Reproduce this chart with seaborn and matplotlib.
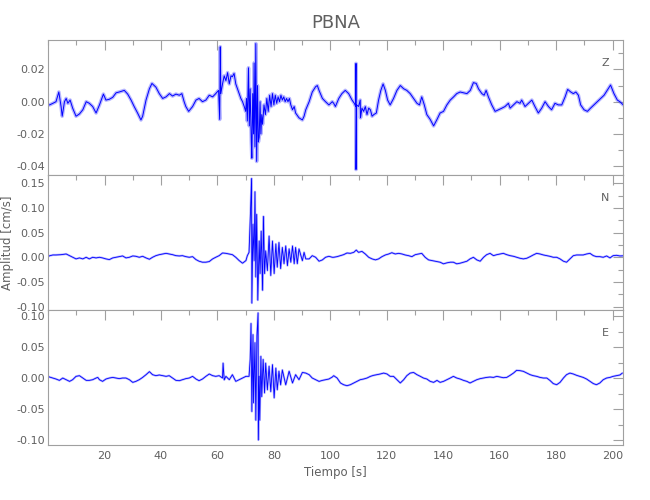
import numpy as np
import pandas as pd
import matplotlib
matplotlib.use('Agg')
import matplotlib.pyplot as plt
import seaborn as sns
from matplotlib.ticker import MultipleLocator, FixedLocator, FormatStrFormatter

# values, amplitudes in 1e-3 cm/s
z_t = [0.0, 0.5, 1.7, 2.8, 3.8, 4.6, 5.0, 5.8, 6.4, 7.0, 7.8, 8.7, 9.9, 11.1, 12.3, 13.5, 14.6, 15.8, 17.0, 18.2,
       19.6, 20.5, 21.7, 22.9, 24.1, 25.2, 27.0, 28.2, 29.4, 30.5, 31.7, 32.9, 33.5, 34.7, 35.9, 36.8, 38.2, 39.4,
       40.6, 41.8, 43.0, 44.1, 45.3, 46.5, 47.4, 48.2, 48.8, 49.8, 51.2, 52.4, 53.5, 54.7, 55.9, 57.1, 58.3, 59.4,
       60.4, 60.8, 61.0, 61.2, 61.8, 62.4, 63.0, 63.6, 64.2, 64.8, 65.3, 65.9, 66.5, 67.1, 67.7, 68.3, 68.9, 69.5,
       70.0, 70.3, 70.6, 71.0, 71.3, 71.6, 72.0, 72.2, 72.5, 72.8, 73.0, 73.3, 73.6, 73.9, 74.2, 74.5, 74.8, 75.1,
       75.4, 75.7, 76.0, 76.5, 77.0, 77.5, 78.0, 78.5, 79.0, 79.5, 80.0, 80.5, 81.0, 81.5, 82.0, 82.5, 83.0, 83.5,
       84.0, 84.5, 85.0, 85.5, 86.0, 86.6, 87.2, 87.7, 88.9, 90.1, 90.7, 91.3, 92.5, 93.6, 94.8, 95.4, 96.0, 97.2,
       98.3, 99.5, 100.7, 101.2, 101.8, 103.0, 104.1, 105.3, 106.5, 107.7, 108.5, 109.0, 109.1, 109.1, 109.3,
       110.0, 110.6, 110.7, 111.2, 111.8, 112.4, 113.0, 113.6, 114.2, 114.8, 115.4, 116.3, 117.1, 117.9, 118.7,
       119.5, 120.3, 121.2, 122.4, 123.6, 124.8, 126.0, 127.1, 128.3, 129.5, 130.7, 131.6, 132.4, 133.3, 134.2,
       135.4, 136.6, 137.8, 138.9, 140.1, 141.3, 142.5, 143.7, 144.8, 146.0, 147.2, 148.4, 149.6, 150.7, 151.7,
       152.5, 153.7, 154.5, 155.2, 156.0, 157.2, 158.4, 159.6, 160.8, 161.9, 163.1, 163.7, 164.9, 166.1, 167.2,
       167.8, 169.0, 170.2, 171.4, 172.5, 173.7, 174.9, 176.1, 177.3, 178.4, 179.6, 180.8, 182.0, 183.2, 184.1,
       185.2, 186.1, 187.0, 187.9, 188.7, 189.9, 191.1, 192.2, 193.4, 194.6, 195.8, 197.0, 198.1, 199.3, 200.5,
       201.7, 202.6, 203.8]
z_v = [-2, -2, -1, 0, 6, -3, -9, 0, 2, -1, 1, -4, -9, -7.6, -5, 0, -1, -3, -7, -2,
       4.7, 1, 1.5, 2.7, 5.5, 6, 7, 4.7, 1, -3, -7, -11.3, -9, 1, 8, 11.3, 9, 5,
       2, 3, 5, 3.5, 4.7, 4, 5, 0, -3, -6, -3, 1, 2, 0, 1, 4, 3, 5,
       7, -11, 34, 5, 11, 16, 13, 18, 11, 16, 15.5, 17.5, 11, 8, 5, 2, 0, -3,
       -6, 2, -12, 21, -15, 8, -25, -35, 5, -20, 24, -28, 36, -37, 10, -25, -22, 0,
       -20, -8, -14, -2, -8, 2, -6, 4, -3, 5, -2, 4, -1, 3, 0, 4, 1, 3,
       0, 2, 0, 2, -2, -5, -3, -7, -10, -11.3, -9, -5, 0, 6, 9.3, 10, 7, 2,
       0, -2, 0, -1, -3, 2, 5, 7, 5, 1, -1, -3, 23.7, -42, -2,
       -3, 1, -10, -4, -6, -3, -8, -4, -5, -9, -8, -7, 1, 7, 11,
       7, 1, -2, 2, 7, 10, 8, 7, 5, 2, -1, -2, 3, -2, -8,
       -11, -15, -11, -7, -6, -2, 1, 3, 5, 6, 5.5, 5, 7, 11.8, 11.3,
       8, 5, 4, 7, 3, -2, -6, -5, -4, -3, -1, -4, -2, 0, -1,
       1, -3, -1, 1, -3, -7, -4, 0, -3, -5, -1, -2, -2, 3, 7.6,
       6, 5, 6, 4, -2, -5, -6, -4, -2, 0, 2, 4, 7, 10.3, 5,
       1, 0, -2]

n_t = [0.0, 0.5, 1.7, 2.8, 4.6, 6.4, 7.6, 8.7, 9.9, 11.1, 12.3, 13.5, 14.6, 15.8, 17.0, 18.2, 19.3, 20.5, 21.7,
       22.9, 24.1, 25.2, 26.4, 27.6, 28.8, 30.0, 31.1, 32.3, 33.5, 34.7, 35.9, 37.0, 38.2, 39.4, 40.6, 41.8, 42.9,
       44.1, 45.3, 46.5, 47.6, 48.8, 50.0, 51.2, 52.4, 53.5, 54.7, 55.9, 57.1, 58.3, 59.4, 60.6, 61.8, 63.0, 64.2,
       65.3, 66.5, 67.7, 68.9, 70.1, 70.6, 71.2, 71.6, 72.1, 72.2, 72.6, 73.0, 73.3, 73.6, 73.9, 74.3, 74.8, 75.1,
       75.5, 76.0, 76.3, 76.7, 77.1, 77.7, 78.3, 78.9, 79.5, 80.1, 80.7, 81.2, 81.8, 82.4, 83.0, 83.6, 84.2, 84.8,
       85.4, 86.0, 86.6, 87.2, 87.7, 88.3, 88.9, 90.1, 90.7, 91.3, 92.5, 93.6, 94.8, 96.0, 97.2, 98.3, 99.5,
       100.7, 101.2, 102.4, 103.6, 104.7, 105.9, 107.1, 108.3, 109.2, 110.0, 111.2, 112.4, 113.6, 114.8, 116.0,
       117.1, 118.3, 119.5, 120.7, 121.8, 123.0, 124.2, 125.4, 126.5, 127.7, 128.9, 130.1, 131.3, 132.4, 133.6,
       134.8, 136.0, 137.2, 138.9, 140.1, 141.3, 142.5, 143.6, 144.8, 146.0, 147.2, 148.4, 149.5, 150.7, 151.9,
       153.1, 154.3, 155.4, 156.6, 157.8, 159.0, 160.2, 161.3, 162.5, 163.7, 164.9, 166.0, 167.2, 168.4, 169.6,
       170.8, 171.9, 173.1, 174.3, 175.5, 176.7, 177.8, 179.0, 180.2, 181.4, 182.6, 183.7, 184.9, 186.1, 187.3,
       188.4, 189.6, 190.8, 192.0, 193.2, 194.3, 195.5, 196.7, 197.9, 199.1, 200.2, 201.4, 202.6, 203.8]
n_v = [1.3, 3, 4.7, 4.7, 5.3, 6.7, 3.3, 0, -3.3, -1.3, -3.3, 0, -3.3, 0, -1.3, 0, -1.3, -3.3, -4.7,
       -1.3, 0, 1.3, 2.7, -1.3, 0, 2.7, 2, 0, 2, -1.3, -4, 0, 3.3, 5.3, 6.7, 8, 6.7,
       5.3, 3.3, 2.7, 3.3, 1.3, 0, 1.3, -4.7, -8, -10, -10, -8.7, -3.3, 0, 3.3, 8.7, 8, 6.7,
       5.3, 0, -6.7, -12, -6.7, 3.3, 10, 73, 160, -93, 67, -6.7, 133, -40, 87, -87, 33, -33,
       53, -67, 83, -33, 13, -27, 43, -37, 33, -33, 27, -20, 30, -23, 20, -13, 23, -17,
       17, -10, 23, -13, 20, -13, 17, -7, 10, -3.3, -3.3, 3.3, 0, -8, -5.3, 0, 2,
       0, 0, 1.3, 3.3, 5.3, 8.7, 8, 10, 14.7, 10, 12, 6.7, 0, -3.3, -5.3,
       -3.3, 1.3, 4.7, 6.7, 9.3, 6.7, 8, 6.7, 4.7, 3.3, 1.3, 5.3, 6.7, 8, 0,
       -5.3, -6.7, -8, -10, -13.3, -11.3, -10, -10, -13.3, -12, -10, -8, -3.3, 0, -5.3,
       -8, 0, 5.3, 8, 3.3, 5.3, 6.7, 8, 5.3, 3.3, 2, 0, -2, -3.3, -2,
       1.3, 4.7, 8, 6.7, 4.7, 3.3, 2, 0, 0, -3.3, -8, -10, -3.3, 3.3, 4.7,
       4.7, 4.7, 6.7, 8, 3.3, 1.3, 1.3, 0, 2.7, -1.3, 3.3, 4, 2.7, 3]

e_t = [0.0, 0.5, 1.7, 2.8, 4.0, 5.2, 6.4, 7.6, 8.7, 9.9, 11.1, 12.3, 13.5, 14.6, 15.8, 17.0, 17.6, 18.2, 19.3,
       20.5, 21.7, 22.9, 24.1, 25.2, 26.4, 27.6, 28.8, 30.0, 31.1, 32.3, 33.5, 34.7, 35.9, 37.0, 38.2, 39.4, 40.6,
       41.8, 42.9, 44.1, 45.3, 46.5, 47.6, 48.8, 50.0, 51.2, 52.4, 53.5, 54.7, 55.9, 57.1, 58.3, 59.4, 60.6, 61.8,
       62.0, 62.4, 63.0, 64.2, 65.3, 66.5, 67.7, 68.9, 70.1, 71.2, 71.6, 71.9, 72.2, 72.6, 72.8, 73.3, 73.6, 74.0,
       74.4, 74.5, 74.8, 75.0, 75.4, 75.7, 76.2, 76.7, 77.1, 77.7, 78.3, 78.9, 79.5, 80.1, 80.7, 81.2, 81.8, 82.4,
       83.0, 84.2, 85.4, 86.6, 87.7, 88.9, 90.1, 91.3, 92.5, 93.6, 94.8, 96.0, 97.2, 98.3, 99.5, 100.7, 101.2,
       102.4, 103.6, 104.7, 105.9, 107.1, 108.3, 109.5, 110.6, 111.8, 113.0, 114.2, 115.3, 116.5, 117.7, 118.9,
       120.1, 121.2, 122.4, 123.6, 124.8, 126.0, 127.1, 128.3, 129.5, 130.7, 131.9, 133.0, 134.2, 135.4, 136.6,
       137.8, 138.9, 140.1, 141.3, 142.5, 143.6, 144.8, 146.0, 147.2, 148.4, 149.5, 150.7, 151.9, 153.1, 154.3,
       155.4, 156.6, 157.8, 159.0, 160.2, 161.3, 162.5, 163.7, 164.9, 166.0, 167.2, 168.4, 169.6, 170.8, 171.9,
       173.1, 174.3, 175.5, 176.7, 177.8, 179.0, 180.2, 181.4, 182.6, 183.7, 184.9, 186.1, 187.3, 188.4, 189.6,
       190.8, 192.0, 193.2, 194.3, 195.5, 196.7, 197.9, 199.1, 200.2, 201.4, 202.6, 203.5]
e_v = [2.7, 1.6, 0, -1.6, -3.8, 0, -2.7, -5.4, -2.7, 2.7, 3.8, 0, -3.8, -3.8, -2.7, 0, 1, -2.7, -5.4,
       -1.6, 0, 1, 0, -1, 0, 0, -2.7, -7, -5.4, -2.7, 1, 5.4, 10.3, 5.4, 3.8, 4.9, 3.8,
       2.7, 3.8, 0, -3.8, -4.3, -2.7, -1, 0, 2.7, -1.6, -4.3, -1.6, 2.7, 6.5, 3.8, 2.7, 3.8, 0,
       24, -3, 2.7, -2.7, 5.4, -5.4, -2.7, 0, 2.7, 2.7, 30, 88, -54, 70, -40, 57, -68, 68,
       105, -100, 3, -68, 35, -30, 30, -24, 24, -19, 19, -22, 21.6, -32, 16, -19, 11, -11,
       13, -11, 11, -8, 5.4, -2.7, 9, 8, 5.4, 0, -2.7, -5.4, -3.8, -2.7, -1.6, 1.6, 3.8,
       0, -8, -10.8, -12.4, -10.8, -8, -5.4, -2.7, -1.6, 0, 2.7, 4.3, 5.4, 6.5, 8,
       6.5, 2.7, 2.7, -2.7, -8, -2.7, 3.8, 8, 9, 5.4, 2.7, 0, -1.6, -5.4, -7,
       -3.8, -7, -5.4, -2.7, 0, 2.7, 0, -1.6, -3.8, -5.4, -8, -5.4, -2.7, -1, 0,
       1, 1.6, 1, 2.7, 1.6, 0.5, 1, 4.3, 8, 12.4, 11.9, 10.8, 8, 5.4, 3.8,
       2.7, 1, 0, 0, -3.8, -9, -10.8, -7, 0, 5.4, 8, 6.5, 4.3, 2.7, 1,
       -1.6, -5.4, -9, -10.8, -8, -2.7, 0, 1, 2.7, 3.8, 4.9, 8]

components = ['Z', 'N', 'E']
series = [(z_t, z_v), (n_t, n_v), (e_t, e_v)]
ylims = [(-0.0454, 0.0382), (-0.107, 0.167), (-0.108, 0.1097)]
ymajor = [0.02, 0.05, 0.05]
yminor = [0.01, 0.025, 0.025]
halo_w = [2.6, 1.6, 1.6]
core_w = [0.7, 0.6, 0.6]

sns.set_style('white')
plt.rcParams['font.family'] = ['DejaVu Sans']
grey = '#606060'
edge = '#a0a0a0'

fig, axes = plt.subplots(3, 1, figsize=(6.5, 5), dpi=100, sharex=True)
fig.subplots_adjust(left=0.074, right=0.958, top=0.92, bottom=0.11, hspace=0)

for i, ax in enumerate(axes):
    t, v = series[i]
    df = pd.DataFrame({'t': t, 'v': np.array(v) * 1e-3})
    sns.lineplot(data=df, x='t', y='v', ax=ax, sort=False, estimator=None,
                 color='#3333ff', alpha=0.35, lw=halo_w[i])
    sns.lineplot(data=df, x='t', y='v', ax=ax, sort=False, estimator=None,
                 color='#0000ff', lw=core_w[i])
    ax.set_xlim(0, 203.6)
    ax.set_ylim(*ylims[i])
    ax.xaxis.set_major_locator(FixedLocator(np.arange(20, 201, 20)))
    ax.xaxis.set_minor_locator(MultipleLocator(10))
    ax.yaxis.set_major_locator(MultipleLocator(ymajor[i]))
    ax.yaxis.set_minor_locator(MultipleLocator(yminor[i]))
    ax.yaxis.set_major_formatter(FormatStrFormatter('%.2f'))
    ax.tick_params(which='both', direction='in', top=True, right=True, color=edge,
                   labelcolor=grey, labelsize=8, width=0.8)
    ax.tick_params(which='major', length=7)
    ax.tick_params(which='minor', length=3.6)
    ax.tick_params(axis='y', pad=2)
    ax.tick_params(axis='x', pad=4)
    for s in ax.spines.values():
        s.set_color(edge)
        s.set_linewidth(0.8)
    ax.set_xlabel('')
    ax.set_ylabel('')
    ax.text(0.976, 0.87, components[i], transform=ax.transAxes, ha='right', va='top',
            fontsize=8, color=grey)

axes[0].set_title('PBNA', fontsize=13, color=grey, pad=9)
axes[1].set_ylabel('Amplitud [cm/s]', fontsize=8.5, color=grey, labelpad=2)
axes[2].set_xlabel('Tiempo [s]', fontsize=8.5, color=grey, labelpad=4)

fig.savefig('out.png', dpi=100)
